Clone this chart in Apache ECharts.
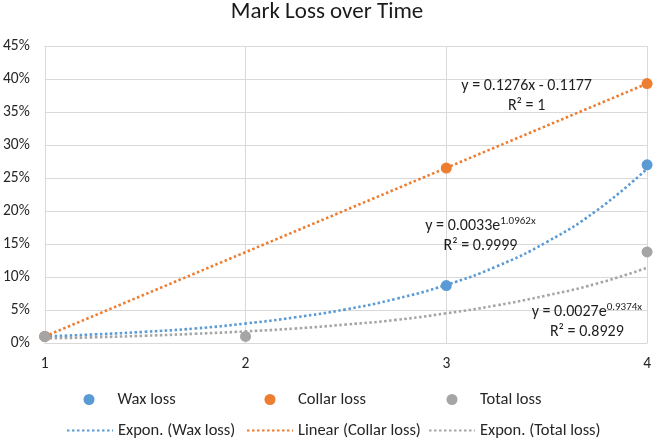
<!DOCTYPE html>
<html><head><meta charset="utf-8">
<script src="https://cdn.jsdelivr.net/npm/echarts@6/dist/echarts.min.js"></script>
<style>html,body{margin:0;padding:0;background:#fff}#c{width:654px;height:440px}</style>
</head><body><div id="c"></div>
<script>
// Data (percent)
const waxLoss = [[1, 1.0], [3, 8.7], [4, 27.0]];
const collarLoss = [[1, 1.0], [3, 26.5], [4, 39.3]];
const totalLoss = [[1, 1.0], [2, 1.0], [4, 13.8]];
// Trendlines
const waxTrend = [[1,1.0],[1.25,1.3],[1.5,1.7],[1.75,2.2],[2,2.95],[2.25,3.9],[2.5,5.1],[2.75,6.7],[3,8.8],[3.25,11.6],[3.5,15.3],[3.75,20.1],[4,26.4]];
const collarTrend = [[1,1.0],[4,39.3]];
const totalTrend = [[1,0.69],[1.25,0.87],[1.5,1.1],[1.75,1.4],[2,1.76],[2.25,2.2],[2.5,2.8],[2.75,3.5],[3,4.5],[3.25,5.7],[3.5,7.2],[3.75,9.0],[4,11.4]];
const xTicks = [1, 2, 3, 4];
const eqCollar = {pos: [3.40, 37.4], l1: 'y = 0.1276x - 0.1177', r2: '1'};
const eqWax = {pos: [3.17, 16.2], base: 'y = 0.0033e', exp: '1.0962x', r2: '0.9999'};
const eqTotal = {pos: [3.70, 3.2], base: 'y = 0.0027e', exp: '0.9374x', r2: '0.8929'};

const FONT = 'Carlito, Lato, sans-serif';
const BLUE = '#5B9BD5', ORANGE = '#ED7D31', GRAY = '#A5A5A5';
const TXT = '#262626';

const rich = {
  a: {fontSize: 16, fontFamily: FONT, color: '#1f1f1f', lineHeight: 20},
  s: {fontSize: 11, fontFamily: FONT, color: '#1f1f1f', verticalAlign: 'top', lineHeight: 20}
};
function eqMark(eq, text) {
  return {
    symbol: 'circle', symbolSize: 0, silent: true,
    data: [{coord: eq.pos, value: 0,
      label: {show: true, position: 'inside', formatter: text, rich: rich, align: 'center'}}]
  };
}
const dotted = [2.5, 2.5];

const chart = echarts.init(document.getElementById('c'), null, {renderer: 'canvas'});
function markerLegend(name, left, padLeft) {
  return {data: [name], left: left, top: 391, itemWidth: 11, itemHeight: 11, itemGap: 0, padding: 0,
    selectedMode: false, textStyle: {fontFamily: FONT, fontSize: 16.5, color: TXT, padding: [0, 0, 0, padLeft]}};
}
function lineLegend(name, left) {
  return {data: [name], left: left, top: 422, itemWidth: 46, itemHeight: 10, itemGap: 0, padding: 0,
    selectedMode: false, itemStyle: {opacity: 0},
    textStyle: {fontFamily: FONT, fontSize: 16.5, color: TXT}};
}
chart.setOption({
  animation: false,
  backgroundColor: '#fff',
  title: {text: 'Mark Loss over Time', left: 'center', top: 1, padding: 0,
    textStyle: {fontFamily: FONT, fontSize: 23, fontWeight: 'normal', color: '#1a1a1a'}},
  legend: [
    markerLegend('Wax loss', 83.5, 18),
    markerLegend('Collar loss', 264.5, 17.5),
    markerLegend('Total loss', 446.5, 17.5),
    lineLegend('Expon. (Wax loss)', 66),
    lineLegend('Linear (Collar loss)', 246),
    lineLegend('Expon. (Total loss)', 428)
  ],
  grid: {left: 43, right: 5, top: 46, bottom: 97},
  xAxis: {type: 'value', min: xTicks[0], max: xTicks[xTicks.length - 1], interval: 1,
    axisLine: {show: true, lineStyle: {color: '#D9D9D9'}},
    axisTick: {show: false},
    splitLine: {show: true, lineStyle: {color: '#D9D9D9'}},
    axisLabel: {margin: 13, fontFamily: FONT, fontSize: 15.5, color: TXT}},
  yAxis: {type: 'value', min: 0, max: 45, interval: 5,
    axisLine: {show: true, lineStyle: {color: '#D9D9D9'}},
    axisTick: {show: false},
    splitLine: {show: true, lineStyle: {color: '#D9D9D9'}},
    axisLabel: {margin: 15, formatter: '{value}%', fontFamily: FONT, fontSize: 15.5, color: TXT}},
  series: [
    {name: 'Expon. (Wax loss)', type: 'line', data: waxTrend, smooth: true, symbol: 'none', z: 2,
      itemStyle: {color: BLUE}, lineStyle: {color: BLUE, width: 2.6, type: dotted},
      markPoint: eqMark(eqWax, '{a|' + eqWax.base + '}{s|' + eqWax.exp + '}\n{a|R² = ' + eqWax.r2 + '}')},
    {name: 'Linear (Collar loss)', type: 'line', data: collarTrend, symbol: 'none', z: 2,
      itemStyle: {color: ORANGE}, lineStyle: {color: ORANGE, width: 2.6, type: dotted},
      markPoint: eqMark(eqCollar, '{a|' + eqCollar.l1 + '}\n{a|R² = ' + eqCollar.r2 + '}')},
    {name: 'Expon. (Total loss)', type: 'line', data: totalTrend, smooth: true, symbol: 'none', z: 2,
      itemStyle: {color: GRAY}, lineStyle: {color: GRAY, width: 2.6, type: dotted},
      markPoint: eqMark(eqTotal, '{a|' + eqTotal.base + '}{s|' + eqTotal.exp + '}\n{a|R² = ' + eqTotal.r2 + '}')},
    {name: 'Wax loss', type: 'scatter', data: waxLoss, symbolSize: 11, z: 3, itemStyle: {color: BLUE, opacity: 1}},
    {name: 'Collar loss', type: 'scatter', data: collarLoss, symbolSize: 11, z: 3, itemStyle: {color: ORANGE, opacity: 1}},
    {name: 'Total loss', type: 'scatter', data: totalLoss, symbolSize: 11, z: 4, itemStyle: {color: GRAY, opacity: 1}}
  ]
});
</script></body></html>
